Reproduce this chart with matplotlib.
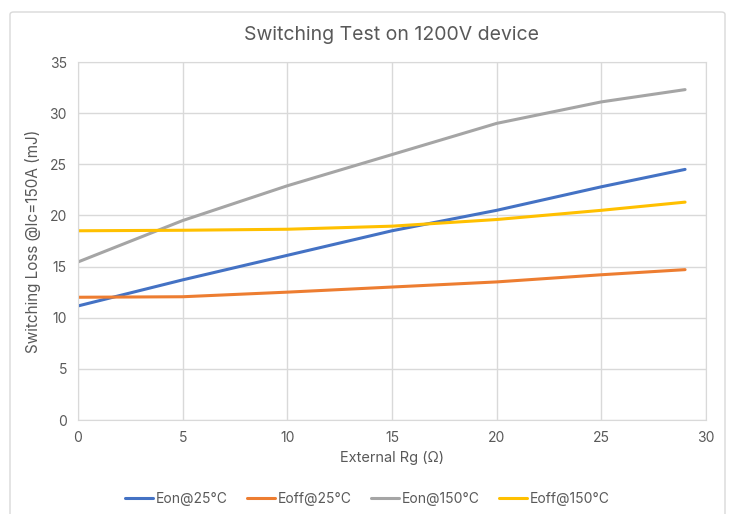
import matplotlib.pyplot as plt
from matplotlib.patches import FancyBboxPatch

plt.rcParams['font.family'] = ['Inter', 'DejaVu Sans']

rg = [0, 5, 10, 15, 20, 25, 29]
eon_25 = [11.15, 13.7, 16.1, 18.5, 20.5, 22.8, 24.5]
eoff_25 = [12.0, 12.05, 12.5, 13.0, 13.5, 14.2, 14.7]
eon_150 = [15.45, 19.5, 22.9, 25.95, 29.0, 31.1, 32.3]
eoff_150 = [18.5, 18.55, 18.65, 18.95, 19.6, 20.5, 21.3]

series = [
    ("Eon@25°C", eon_25, "#4472c4"),
    ("Eoff@25°C", eoff_25, "#ed7d31"),
    ("Eon@150°C", eon_150, "#a5a5a5"),
    ("Eoff@150°C", eoff_150, "#ffc000"),
]

fig = plt.figure(figsize=(7.35, 5.14), dpi=100)
fig.patches.append(FancyBboxPatch((10 / 735, -0.05), 715 / 735, (514 - 12) / 514 + 0.05,
                                  boxstyle="round,pad=0,rounding_size=0.005",
                                  transform=fig.transFigure, fill=False,
                                  edgecolor="#d9d9d9", linewidth=1))
ax = fig.add_axes([78 / 735, 1 - 420 / 514, 628 / 735, 358 / 514])

for name, vals, color in series:
    ax.plot(rg, vals, color=color, linewidth=2.2, label=name,
            solid_capstyle='round', solid_joinstyle='round')

ax.set_xlim(0, 30)
ax.set_ylim(0, 35)
ax.set_xticks(range(0, 31, 5))
ax.set_yticks(range(0, 36, 5))
ax.grid(True, color="#d9d9d9", linewidth=1)
ax.set_axisbelow(True)
for s in ax.spines.values():
    s.set_color("#d9d9d9")
ax.tick_params(colors="#595959", labelsize=10, length=0, pad=8)

ax.set_title("Switching Test on 1200V device", fontsize=14, color="#595959", pad=16)
ax.set_xlabel("External Rg (Ω)", fontsize=10.5, color="#595959", labelpad=4)
ax.set_ylabel("Switching Loss @Ic=150A (mJ)", fontsize=11, color="#595959", labelpad=6)

fig.legend(loc="center", bbox_to_anchor=(0.5, 1 - 499 / 514), ncol=4, frameon=False,
           fontsize=10, labelcolor="#595959", handlelength=2.0, handletextpad=0.2,
           columnspacing=1.4)

fig.savefig("out.png", dpi=100)
